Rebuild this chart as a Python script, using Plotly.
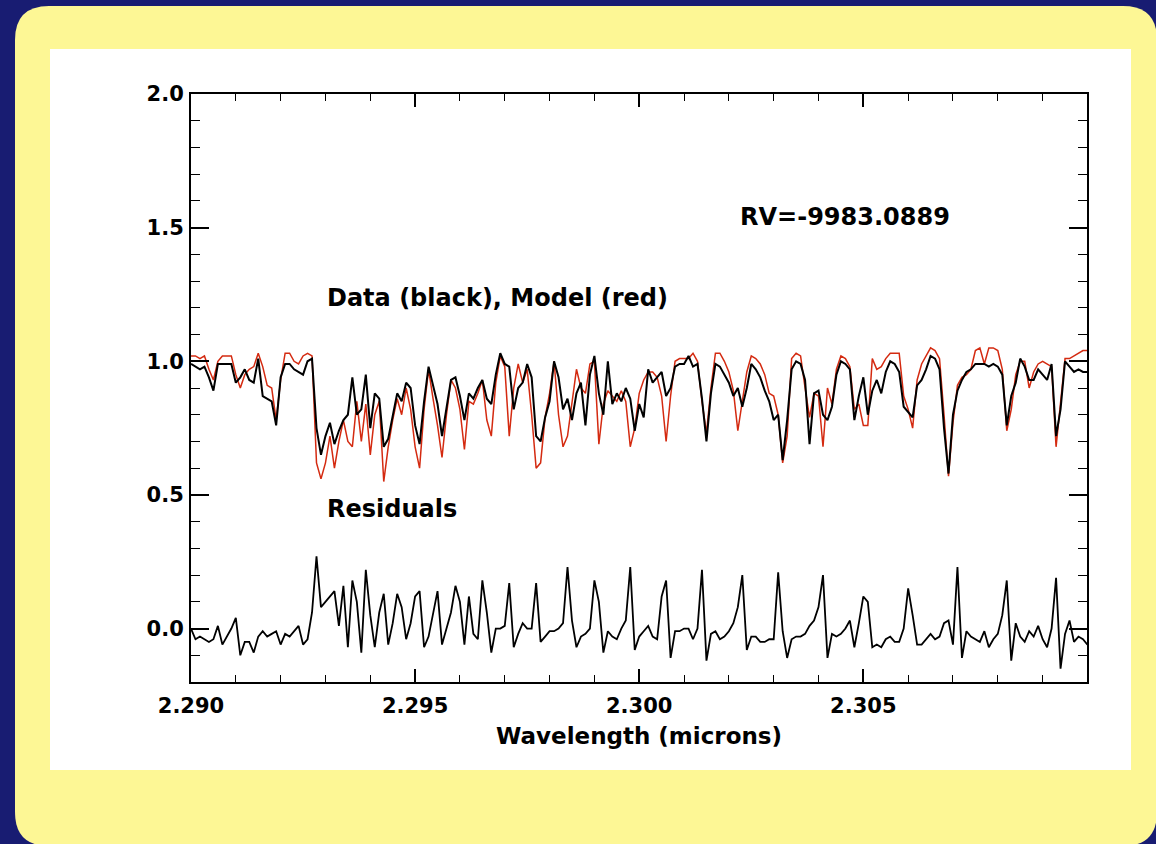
import numpy as np
import plotly.graph_objects as go

# wavelength grid (microns), 0.0001 sampling
wavelength = np.round(np.linspace(2.290, 2.310, 201), 4)

data_black = [
    0.99, 0.98, 0.97, 0.98, 0.94, 0.89, 0.99, 0.99, 0.99, 0.99,
    0.92, 0.94, 0.97, 0.93, 0.92, 1.01, 0.87, 0.86, 0.85, 0.76,
    0.94, 0.99, 0.99, 0.97, 0.96, 0.95, 1.00, 1.01, 0.75, 0.65,
    0.72, 0.77, 0.69, 0.74, 0.78, 0.80, 0.94, 0.80, 0.82, 0.95,
    0.75, 0.88, 0.86, 0.68, 0.71, 0.80, 0.88, 0.85, 0.92, 0.90,
    0.76, 0.69, 0.85, 0.98, 0.91, 0.84, 0.72, 0.83, 0.93, 0.94,
    0.87, 0.78, 0.88, 0.86, 0.90, 0.93, 0.86, 0.84, 0.95, 1.03,
    0.99, 0.98, 0.82, 0.90, 0.92, 0.99, 0.94, 0.72, 0.70, 0.79,
    0.85, 1.00, 0.94, 0.82, 0.86, 0.78, 0.88, 0.92, 0.76, 0.95,
    1.02, 0.88, 0.80, 1.00, 0.84, 0.88, 0.85, 0.90, 0.86, 0.74,
    0.84, 0.79, 0.97, 0.92, 0.94, 0.96, 0.87, 0.90, 0.98, 0.99,
    0.99, 1.02, 0.98, 0.99, 0.86, 0.70, 0.88, 0.99, 0.98, 0.95,
    0.92, 0.87, 0.90, 0.83, 0.90, 0.99, 0.97, 0.94, 0.89, 0.85,
    0.78, 0.80, 0.63, 0.78, 0.97, 1.00, 0.99, 0.93, 0.69, 0.88,
    0.89, 0.80, 0.78, 0.83, 0.95, 1.00, 0.99, 0.97, 0.78, 0.87,
    0.94, 0.80, 0.89, 0.93, 0.88, 0.96, 1.00, 0.99, 0.96, 0.83,
    0.81, 0.79, 0.91, 0.93, 0.97, 1.02, 1.01, 0.97, 0.75, 0.58,
    0.80, 0.89, 0.93, 0.96, 0.97, 0.99, 0.99, 0.99, 0.98, 0.99,
    0.98, 0.95, 0.76, 0.87, 0.92, 1.01, 0.98, 0.93, 0.93, 0.97,
    0.95, 0.93, 0.99, 0.72, 0.82, 1.00, 0.98, 0.96, 0.97, 0.96,
    0.96,
]

model_red = [
    1.02, 1.02, 1.01, 1.02, 0.97, 0.93, 1.00, 1.02, 1.02, 1.02,
    0.95, 0.90, 0.95, 0.97, 0.98, 1.03, 0.98, 0.91, 0.90, 0.78,
    0.93, 1.03, 1.03, 1.00, 0.99, 1.02, 1.03, 1.02, 0.62, 0.56,
    0.62, 0.72, 0.60, 0.70, 0.78, 0.70, 0.68, 0.85, 0.70, 0.84,
    0.65, 0.80, 0.85, 0.55, 0.68, 0.78, 0.86, 0.80, 0.90, 0.82,
    0.68, 0.60, 0.82, 0.97, 0.86, 0.76, 0.64, 0.80, 0.93, 0.90,
    0.82, 0.67, 0.85, 0.84, 0.88, 0.93, 0.78, 0.72, 0.92, 1.02,
    0.98, 0.72, 0.90, 0.99, 0.92, 0.97, 0.80, 0.60, 0.62, 0.79,
    0.88, 1.00, 0.80, 0.68, 0.72, 0.85, 0.97, 0.90, 0.88, 0.99,
    1.00, 0.69, 0.84, 0.89, 0.87, 0.85, 0.89, 0.85, 0.68, 0.75,
    0.88, 0.93, 0.96, 0.96, 0.94, 0.87, 0.70, 0.87, 1.00, 1.01,
    1.01, 1.01, 1.03, 1.00, 0.85, 0.73, 0.90, 1.03, 1.03, 1.00,
    0.96, 0.89, 0.74, 0.86, 0.96, 1.02, 1.01, 0.99, 0.95, 0.88,
    0.87, 0.80, 0.62, 0.72, 1.01, 1.03, 1.02, 0.90, 0.79, 0.88,
    0.87, 0.68, 0.90, 0.84, 0.97, 1.02, 1.01, 0.98, 0.82, 0.84,
    0.76, 0.76, 1.01, 0.97, 0.98, 1.01, 1.03, 1.03, 1.03, 0.87,
    0.82, 0.75, 0.93, 0.99, 1.02, 1.05, 1.04, 1.01, 0.80, 0.57,
    0.77, 0.91, 0.94, 0.95, 0.97, 1.04, 1.05, 0.99, 1.05, 1.05,
    1.04, 0.97, 0.74, 0.82, 0.95, 1.00, 1.00, 0.90, 0.96, 0.99,
    1.00, 0.99, 0.98, 0.68, 0.85, 1.01, 1.01, 1.02, 1.03, 1.04,
    1.04,
]

residuals = [
    0.00, -0.04, -0.03, -0.04, -0.05, -0.04, 0.01, -0.06, -0.03, 0.00,
    0.04, -0.10, -0.05, -0.05, -0.09, -0.03, -0.01, -0.03, -0.02, -0.01,
    -0.06, -0.02, -0.03, -0.01, 0.01, -0.06, -0.04, 0.06, 0.27, 0.08,
    0.10, 0.12, 0.14, 0.01, 0.16, -0.07, 0.18, 0.10, -0.09, 0.22,
    0.05, -0.07, 0.06, 0.13, -0.06, 0.02, 0.13, 0.08, -0.04, 0.02,
    0.12, 0.14, -0.07, -0.03, 0.06, 0.14, -0.06, 0.00, 0.06, 0.16,
    0.10, -0.06, 0.12, -0.02, -0.04, 0.18, 0.06, -0.09, 0.00, 0.00,
    0.01, 0.17, -0.07, -0.02, 0.02, 0.00, 0.00, 0.17, -0.05, -0.03,
    -0.01, -0.01, 0.00, 0.02, 0.23, 0.03, -0.07, -0.03, -0.02, 0.00,
    0.18, 0.10, -0.09, -0.01, -0.03, -0.04, 0.00, 0.03, 0.23, -0.08,
    -0.03, -0.01, 0.01, -0.03, -0.04, 0.12, 0.18, -0.11, -0.01, -0.01,
    0.00, 0.00, -0.04, 0.00, 0.22, -0.12, -0.02, -0.01, -0.04, -0.03,
    -0.01, 0.02, 0.08, 0.20, -0.08, -0.03, -0.03, -0.05, -0.05, -0.04,
    -0.04, 0.21, -0.01, -0.11, -0.04, -0.03, -0.03, -0.02, 0.01, 0.03,
    0.08, 0.20, -0.11, -0.02, -0.03, -0.02, 0.00, 0.03, -0.07, 0.02,
    0.12, 0.10, -0.07, -0.06, -0.07, -0.04, -0.03, -0.05, -0.05, 0.00,
    0.15, 0.05, -0.06, -0.06, -0.04, -0.02, -0.04, -0.03, 0.02, 0.03,
    -0.06, 0.23, -0.11, -0.01, -0.03, -0.04, -0.05, -0.01, -0.07, -0.04,
    -0.02, 0.05, 0.18, -0.12, 0.02, -0.03, -0.05, -0.01, -0.03, 0.01,
    -0.04, -0.07, 0.00, 0.19, -0.15, -0.02, 0.03, -0.05, -0.03, -0.04,
    -0.06,
]

x_ticks = [2.290, 2.295, 2.300, 2.305]
x_tick_text = ["2.290", "2.295", "2.300", "2.305"]
y_ticks = [0.0, 0.5, 1.0, 1.5, 2.0]
y_tick_text = ["0.0", "0.5", "1.0", "1.5", "2.0"]

W, H = 1156, 844
L, R, T, B = 191, 1087, 94, 682


def fx(px):
    return (px - L) / (R - L)


def fy(py):
    return (B - py) / (B - T)


def rounded_rect(x0, y0, x1, y1, r):
    pts = [
        ("M", (x0 + r, y0)), ("L", (x1 - r, y0)),
        ("Q", (x1, y0), (x1, y0 + r)), ("L", (x1, y1 - r)),
        ("Q", (x1, y1), (x1 - r, y1)), ("L", (x0 + r, y1)),
        ("Q", (x0, y1), (x0, y1 - r)), ("L", (x0, y0 + r)),
        ("Q", (x0, y0), (x0 + r, y0)),
    ]
    s = ""
    for p in pts:
        cmd = p[0]
        coords = " ".join(f"{fx(a):.5f},{fy(b):.5f}" for a, b in p[1:])
        s += f"{cmd} {coords} "
    return s + "Z"


fig = go.Figure()
fig.add_trace(go.Scatter(x=wavelength, y=model_red, mode="lines",
                         line=dict(color="#d42a10", width=1.5),
                         showlegend=False))
fig.add_trace(go.Scatter(x=wavelength, y=data_black, mode="lines",
                         line=dict(color="black", width=2.0),
                         showlegend=False))
fig.add_trace(go.Scatter(x=wavelength, y=residuals, mode="lines",
                         line=dict(color="black", width=1.8),
                         showlegend=False))

shapes = [
    dict(type="path", xref="paper", yref="paper", layer="below",
         path=rounded_rect(15, 6, 1157, 846, 34),
         fillcolor="#fdf795", line=dict(width=0)),
    dict(type="rect", xref="paper", yref="paper", layer="below",
         x0=fx(50), x1=fx(1131), y0=fy(770), y1=fy(49),
         fillcolor="white", line=dict(width=0)),
]

tfont = dict(family="DejaVu Sans", size=21, color="black", weight="bold")
afont = dict(family="DejaVu Sans", size=24, color="black", weight="bold")

annotations = [
    dict(x=fx(325), y=1.236, xref="paper", yref="y", text="Data (black), Model (red)",
         showarrow=False, xanchor="left", yanchor="middle", font=afont),
    dict(x=fx(325), y=0.446, xref="paper", yref="y", text="Residuals",
         showarrow=False, xanchor="left", yanchor="middle", font=afont),
    dict(x=fx(738), y=1.539, xref="paper", yref="y", text="RV=-9983.0889",
         showarrow=False, xanchor="left", yanchor="middle",
         font=dict(family="DejaVu Sans", size=24, color="black", weight="bold")),
    dict(x=fx(639), y=fy(736), xref="paper", yref="paper", text="Wavelength (microns)",
         showarrow=False, xanchor="center", yanchor="middle",
         font=dict(family="DejaVu Sans", size=23, color="black", weight="bold")),
]

fig.update_layout(
    width=W, height=H,
    margin=dict(l=L, r=W - R, t=T, b=H - B),
    paper_bgcolor="#181c72",
    plot_bgcolor="white",
    shapes=shapes,
    annotations=annotations,
    showlegend=False,
    xaxis=dict(
        range=[2.290, 2.30999], tickmode="array", tickvals=x_ticks, ticktext=x_tick_text,
        ticks="inside", ticklen=13, tickwidth=1.6, tickcolor="black",
        showline=True, linewidth=2, linecolor="black", mirror="ticks",
        showgrid=False, zeroline=False, tickfont=tfont, ticklabelstandoff=4,
        minor=dict(tickmode="linear", tick0=2.290, dtick=0.001, ticks="inside",
                   ticklen=7, tickwidth=1.4, tickcolor="black", showgrid=False),
    ),
    yaxis=dict(
        range=[-0.2, 2.0], tickmode="array", tickvals=y_ticks, ticktext=y_tick_text,
        ticks="inside", ticklen=18, tickwidth=1.6, tickcolor="black",
        showline=True, linewidth=2, linecolor="black", mirror="ticks",
        showgrid=False, zeroline=False, tickfont=tfont, ticklabelstandoff=1,
        minor=dict(tickmode="linear", tick0=0.0, dtick=0.1, ticks="inside",
                   ticklen=9, tickwidth=1.4, tickcolor="black", showgrid=False),
    ),
)

fig.write_html("out.html")
